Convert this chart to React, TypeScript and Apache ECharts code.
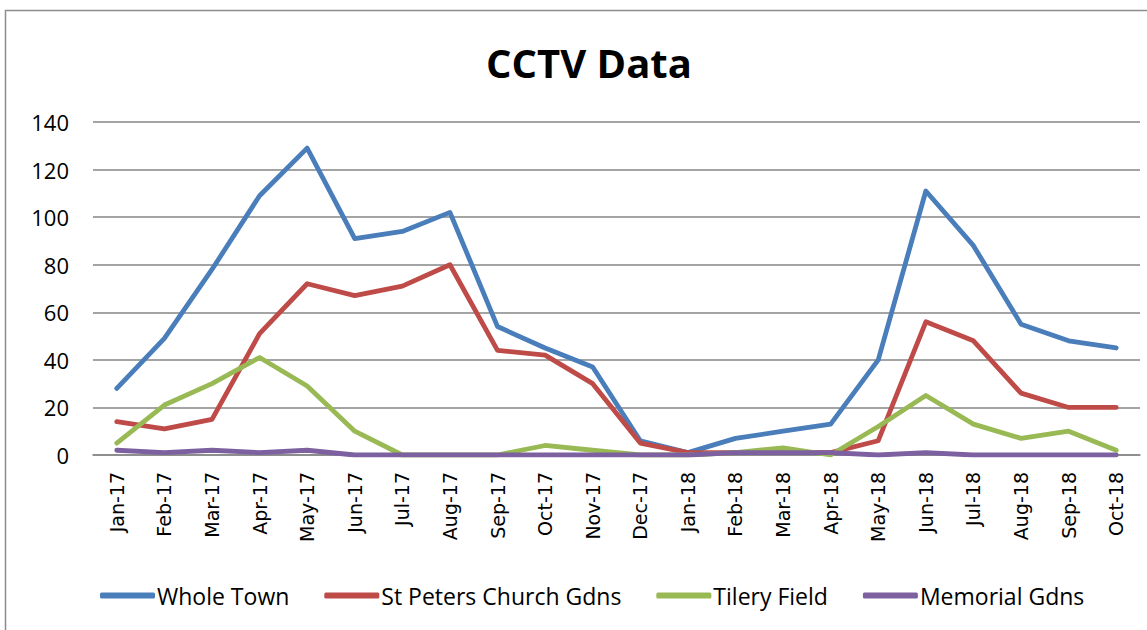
import React, { useEffect, useRef } from "react";
import * as echarts from "echarts";

const categories = ["Jan-17","Feb-17","Mar-17","Apr-17","May-17","Jun-17","Jul-17","Aug-17","Sep-17","Oct-17","Nov-17","Dec-17","Jan-18","Feb-18","Mar-18","Apr-18","May-18","Jun-18","Jul-18","Aug-18","Sep-18","Oct-18"];
const wholeTown = [28,49,78,109,129,91,94,102,54,45,37,6,1,7,10,13,40,111,88,55,48,45];
const stPeters = [14,11,15,51,72,67,71,80,44,42,30,5,1,1,1,1,6,56,48,26,20,20];
const tileryField = [5,21,30,41,29,10,0,0,0,4,2,0,0,1,3,0,12,25,13,7,10,2];
const memorialGdns = [2,1,2,1,2,0,0,0,0,0,0,0,0,1,1,1,0,1,0,0,0,0];

const textFont = "'Open Sans', sans-serif";

export default function App() {
  const ref = useRef<HTMLDivElement>(null);
  useEffect(() => {
    if (!ref.current) return;
    const chart = echarts.init(ref.current, undefined, { renderer: "svg" });
    const mk = (name: string, data: number[], color: string) => ({
      name,
      type: "line",
      data,
      symbol: "none",
      lineStyle: { width: 4.8, color, cap: "round", join: "round" },
      itemStyle: { color },
    });
    chart.setOption({
      animation: false,
      backgroundColor: "#ffffff",
      title: {
        text: "CCTV Data",
        left: 481,
        top: 37,
        textStyle: { fontFamily: textFont, fontWeight: "bold", fontSize: 40, color: "#000" },
      },
      graphic: [
        {
          type: "rect",
          shape: { x: 5.5, y: 10.5, width: 1160, height: 640 },
          style: { fill: "none", stroke: "#8c8c8c", lineWidth: 1.5 },
          silent: true,
        },
      ],
      legend: {
        bottom: 18,
        left: 95,
        itemWidth: 55,
        itemHeight: 6,
        itemGap: 35,
        icon: "roundRect",
        textStyle: { fontFamily: textFont, fontSize: 23, color: "#000", padding: [0, 0, 0, -3] },
        data: ["Whole Town", "St Peters Church Gdns", "Tilery Field", "Memorial Gdns"],
      },
      grid: { left: 93, right: 7, top: 122, bottom: 175, containLabel: false },
      xAxis: {
        type: "category",
        data: categories,
        boundaryGap: true,
        axisLine: { show: true, lineStyle: { color: "#868686", width: 1.5 } },
        axisTick: { show: false },
        axisLabel: { rotate: 90, fontSize: 19, color: "#000", fontFamily: "'DejaVu Sans', sans-serif", margin: 17, interval: 0 },
      },
      yAxis: {
        type: "value",
        min: 0,
        max: 140,
        interval: 20,
        axisLine: { show: false },
        axisTick: { show: false },
        axisLabel: { fontSize: 22, color: "#000", fontFamily: textFont, margin: 24 },
        splitLine: { lineStyle: { color: "#868686", width: 1.5 } },
      },
      series: [
        mk("Whole Town", wholeTown, "#4a7ebb"),
        mk("St Peters Church Gdns", stPeters, "#be4b48"),
        mk("Tilery Field", tileryField, "#98b954"),
        mk("Memorial Gdns", memorialGdns, "#7d60a0"),
      ],
    });
    return () => chart.dispose();
  }, []);
  return <div ref={ref} style={{ width: 1147, height: 630, position: "absolute", left: 0, top: 0 }} />;
}
